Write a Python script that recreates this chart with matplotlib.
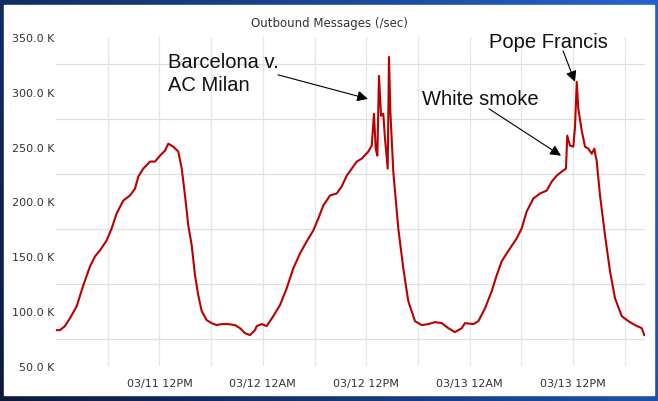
import numpy as np
import pandas as pd
import matplotlib
matplotlib.use('Agg')
import matplotlib.pyplot as plt
import matplotlib.dates as mdates
from matplotlib.colors import LinearSegmentedColormap
from matplotlib.patches import Rectangle

# hours since 2013-03-11 00:00, outbound messages per second (thousands)
hours = [0.08, 0.46, 1.04, 1.62, 2.40, 3.17, 3.95, 4.53, 5.11, 5.88, 6.46, 7.04,
         7.81, 8.59, 9.17, 9.55, 10.13, 10.91, 11.49, 12.07, 12.65, 13.03, 13.61,
         14.19, 14.59, 14.97, 15.35, 15.75, 16.13, 16.51, 16.91, 17.49, 18.07,
         18.65, 19.23, 20.00, 20.77, 21.35, 21.93, 22.51, 23.09, 23.29, 23.87,
         24.45, 25.22, 25.99, 26.77, 27.54, 28.32, 29.09, 29.86, 30.44, 31.02,
         31.80, 32.57, 33.15, 33.74, 34.32, 34.90, 35.48, 36.24, 36.64, 36.90,
         37.10, 37.29, 37.48, 37.72, 37.98, 38.18, 38.49, 38.64, 38.80, 39.14,
         39.72, 40.30, 40.88, 41.66, 42.44, 43.21, 43.98, 44.76, 45.53, 46.30,
         47.08, 47.46, 48.43, 49.01, 49.79, 50.56, 51.14, 51.72, 52.69, 53.46,
         54.04, 54.62, 55.39, 56.17, 56.95, 57.53, 58.11, 58.69, 59.18, 59.33,
         59.65, 60.03, 60.23, 60.43, 60.61, 61.01, 61.39, 61.77, 62.17, 62.47,
         62.63, 62.74, 63.13, 63.71, 64.29, 64.87, 65.65, 66.42, 67.19, 67.97,
         68.27]
msgs_k = [82.7, 82.7, 86.4, 93.6, 104.5, 123.6, 140.9, 150.0, 155.5, 164.5, 175.5,
          189.1, 200.9, 205.5, 211.8, 222.7, 230.0, 236.4, 236.4, 241.8, 246.4,
          252.7, 250.0, 245.5, 230.0, 205.5, 178.2, 160.0, 132.7, 114.5, 100.0,
          91.8, 89.1, 87.3, 88.2, 88.2, 87.3, 84.5, 80.0, 78.2, 82.7, 86.4, 88.2,
          86.4, 95.5, 105.5, 120.9, 139.1, 152.7, 163.6, 173.6, 184.5, 196.4,
          205.5, 207.3, 213.6, 223.6, 230.0, 236.4, 239.1, 245.5, 250.9, 280.0,
          248.2, 241.8, 314.5, 278.2, 280.0, 257.3, 230.0, 331.8, 281.8, 227.3,
          175.5, 139.1, 109.1, 90.9, 87.3, 88.2, 90.0, 89.1, 84.5, 80.9, 84.5,
          89.1, 88.2, 90.9, 102.7, 118.2, 132.7, 145.5, 157.3, 166.4, 175.5,
          190.9, 202.7, 207.3, 210.0, 218.2, 223.6, 227.3, 230.0, 260.0, 250.9,
          250.0, 268.2, 309.1, 284.5, 264.5, 250.0, 248.2, 243.6, 248.2, 240.9,
          237.3, 205.5, 169.1, 136.4, 111.8, 95.5, 90.9, 87.3, 84.5, 78.2]
y_ticks_k = [50, 100, 150, 200, 250, 300, 350]
y_grid_k = [75, 125, 175, 225, 275, 325]
x_label_hours = [12, 24, 36, 48, 60]
x_grid_hours = [6, 18, 30, 42, 54, 66]

start = pd.Timestamp('2013-03-11 00:00')

def hrs(h):
    return start + pd.to_timedelta(h, unit='h')

times = hrs(hours)

fig = plt.figure(figsize=(6.58, 4.02), dpi=100)

# blue gradient frame behind a white panel
bg = fig.add_axes([0, 0, 1, 1], zorder=-10)
gx = np.linspace(0, 1, 256)
gy = np.linspace(0, 1, 64)
grad = 0.75 * gx[None, :] + 0.25 * gy[:, None]
cmap = LinearSegmentedColormap.from_list('frame', ['#0c1b3c', '#173f86', '#2563cc'])
bg.imshow(grad, cmap=cmap, aspect='auto', extent=[0, 1, 0, 1], origin='lower')
bg.add_patch(Rectangle((4 / 658, 6 / 402), 650 / 658, 390 / 402, color='white'))
bg.set_xlim(0, 1)
bg.set_ylim(0, 1)
bg.axis('off')

ax = fig.add_axes([56 / 658, 35 / 402, 589 / 658, 329 / 402])
ax.set_facecolor('none')
ax.plot(times, np.array(msgs_k) * 1000, color='#bb0000', lw=1.5, zorder=3)

ax.set_xlim(hrs(0), hrs(68.35))
ax.set_ylim(50000, 350000)
for s in ax.spines.values():
    s.set_visible(False)

ax.set_xticks([mdates.date2num(hrs(h)) for h in x_label_hours])
ax.set_xticks([mdates.date2num(hrs(h)) for h in x_grid_hours], minor=True)
ax.xaxis.set_major_formatter(mdates.DateFormatter('%m/%d %I%p'))
ax.set_yticks([v * 1000 for v in y_ticks_k])
ax.set_yticklabels(['%.1f K' % v for v in y_ticks_k])
ax.set_yticks([v * 1000 for v in y_grid_k], minor=True)
ax.tick_params(which='both', length=0, labelsize=8, colors='#333333')
ax.tick_params(axis='x', pad=9)
ax.tick_params(axis='y', pad=1)
ax.grid(True, axis='x', which='both', color='#e6e6e6', lw=0.9)
ax.grid(True, axis='y', which='minor', color='#e0e0e0', lw=0.9)
ax.set_axisbelow(True)

fig.text(0.5, 1 - 23 / 402, 'Outbound Messages (/sec)', ha='center', va='center',
         fontsize=8.5, color='#333333')

afont = dict(family='Liberation Sans', fontsize=14.5, color='#111111')
arrow = dict(arrowstyle='-|>', color='black', lw=0.8, mutation_scale=16,
             shrinkA=0, shrinkB=0)

ax.text(hrs(13.0), 322500, 'Barcelona v.', va='baseline', **afont)
ax.text(hrs(13.0), 302100, 'AC Milan', va='baseline', **afont)
ax.annotate('', xy=(hrs(36.2), 293600), xytext=(hrs(25.76), 315500), arrowprops=arrow)

ax.text(hrs(42.47), 289100, 'White smoke', va='baseline', **afont)
ax.annotate('', xy=(hrs(58.6), 241800), xytext=(hrs(50.25), 284500), arrowprops=arrow)

ax.text(hrs(50.25), 340600, 'Pope Francis', va='baseline', **afont)
ax.annotate('', xy=(hrs(60.23), 309100), xytext=(hrs(58.84), 337300), arrowprops=arrow)

fig.savefig('out.png', dpi=100)
